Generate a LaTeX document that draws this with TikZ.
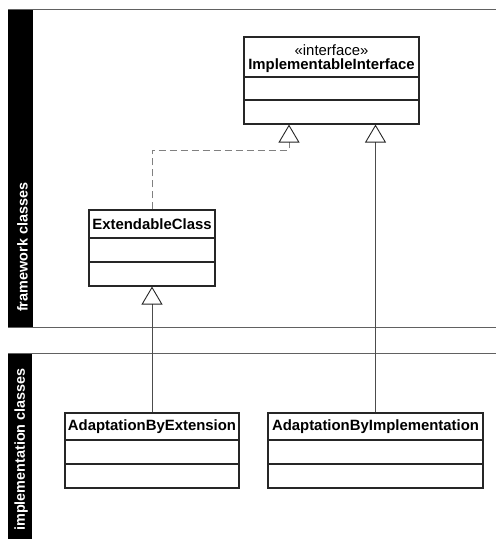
\documentclass[tikz,border=0pt]{standalone}
\usepackage{fontspec}
\setmainfont{Liberation Sans}
\usetikzlibrary{arrows.meta}

\tikzset{
  lanerule/.style={draw=black!62, line width=1pt},
  lanebar/.style={fill=black, draw=none},
  lanelabel/.style={text=white, font=\fontsize{14.4}{16}\selectfont\bfseries, inner sep=0pt, rotate=90},
  classbox/.style={draw=black!85, line width=1.1pt, fill=white, inner sep=0pt},
  divider/.style={draw=black!85, line width=1.1pt},
  classname/.style={font=\fontsize{14.9}{17}\selectfont\bfseries, inner sep=0pt},
  stereo/.style={font=\fontsize{14.9}{17}\selectfont, inner sep=0pt},
  generalize/.style={draw=black!70, line width=0.9pt,
    -{Triangle[open, length=18pt, width=21pt, color=black!85, line width=0.9pt]}},
  realize/.style={generalize, draw=black!50, dash pattern=on 7pt off 4pt}
}

\begin{document}
\begin{tikzpicture}[x=1pt, y=-1pt]
  \useasboundingbox (0,0) rectangle (496,539);

  % swimlanes
  \fill[lanebar] (8,9) rectangle (33,327);
  \fill[lanebar] (8,353) rectangle (32,539);
  \draw[lanerule] (8,9) -- (496,9);
  \draw[lanerule] (8,327) -- (496,327);
  \draw[lanerule] (8,353) -- (496,353);
  \node[lanelabel, anchor=south west] (lane1) at (28,312) {framework classes};
  \node[lanelabel, anchor=south east] (lane2) at (28,368) {implementation classes};

  % ImplementableInterface
  \node[classbox, minimum width=175pt, minimum height=87pt] (iface) at (331.5,80.5) {};
  \draw[divider] (244,77) -- (419,77);
  \draw[divider] (244,100) -- (419,100);
  \node[stereo] (ifstereo) at (331.5,50) {«interface»};
  \node[classname] (ifname) at (331.5,65.5) {ImplementableInterface};

  % ExtendableClass
  \node[classbox, minimum width=126pt, minimum height=76pt] (ec) at (152,248) {};
  \draw[divider] (89,238) -- (215,238);
  \draw[divider] (89,262) -- (215,262);
  \node[classname] (ecname) at (152,224) {ExtendableClass};

  % AdaptationByExtension
  \node[classbox, minimum width=174pt, minimum height=75pt] (abe) at (152,450.5) {};
  \draw[divider] (65,440) -- (239,440);
  \draw[divider] (65,464) -- (239,464);
  \node[classname] (abename) at (152,426.5) {AdaptationByExtension};

  % AdaptationByImplementation
  \node[classbox, minimum width=215pt, minimum height=75pt] (abi) at (375.5,450.5) {};
  \draw[divider] (268,440) -- (483,440);
  \draw[divider] (268,464) -- (483,464);
  \node[classname] (abiname) at (375.5,426.5) {AdaptationByImplementation};

  % relations
  \coordinate (kink) at (289,150);
  \draw[realize] (ec.north) |- (kink) -- (kink |- iface.south);
  \draw[generalize] (abe.north) -- (ec.south);
  \draw[generalize] (abi.north) -- (abi.north |- iface.south);
\end{tikzpicture}
\end{document}
